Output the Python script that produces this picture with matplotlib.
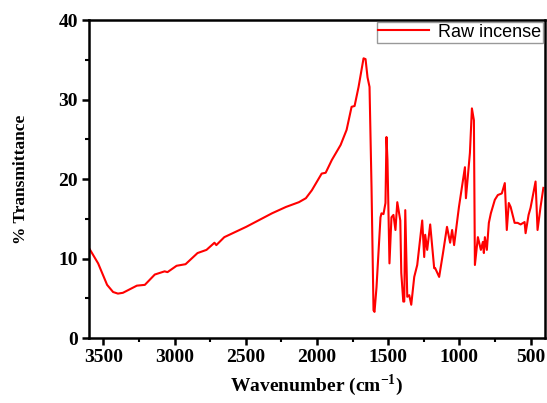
import numpy as np
import matplotlib.pyplot as plt

plt.rcParams['mathtext.fontset'] = 'custom'
plt.rcParams['mathtext.rm'] = 'Liberation Serif'
plt.rcParams['mathtext.bf'] = 'Liberation Serif:bold'

# Espectro FTIR (número de onda em cm^-1, % transmitância)
wavenumber = [3600, 3537, 3474, 3432, 3398, 3363, 3265, 3209, 3139, 3070, 3050, 2986,
              2923, 2839, 2776, 2720, 2707, 2651, 2497, 2316, 2218, 2127, 2078, 2036,
              1967, 1939, 1896, 1834, 1792, 1757, 1736, 1708, 1673, 1659, 1645, 1631,
              1617, 1603, 1596, 1582, 1554, 1547, 1533, 1519, 1512, 1505, 1491, 1477,
              1463, 1449, 1436, 1415, 1408, 1394, 1387, 1380, 1366, 1352, 1338, 1317,
              1296, 1261, 1247, 1240, 1226, 1205, 1177, 1170, 1142, 1115, 1087, 1065,
              1051, 1037, 1003, 961, 954, 926, 912, 898, 891, 870, 849, 835, 828, 821,
              807, 793, 779, 751, 730, 702, 681, 667, 653, 640, 612, 591, 570, 542,
              535, 514, 500, 465, 451, 430, 410]
transmittance = [11.3, 9.4, 6.7, 5.8, 5.6, 5.7, 6.6, 6.7, 8.0, 8.4, 8.3, 9.1,
                 9.3, 10.7, 11.1, 12.0, 11.7, 12.7, 14.0, 15.7, 16.5, 17.1, 17.6, 18.6,
                 20.7, 20.8, 22.4, 24.3, 26.2, 29.1, 29.2, 31.6, 35.2, 35.1, 32.8, 31.6,
                 19.0, 3.5, 3.3, 6.4, 15.2, 15.7, 15.6, 17.0, 25.3, 22.4, 9.4, 15.2,
                 15.5, 13.6, 17.1, 14.8, 8.2, 4.6, 4.6, 16.1, 5.2, 5.4, 4.2, 7.7,
                 9.2, 14.8, 10.2, 13.0, 11.1, 14.3, 8.8, 8.8, 7.7, 10.7, 14.0, 12.0,
                 13.6, 11.7, 16.5, 21.5, 17.6, 23.3, 28.9, 27.4, 9.2, 12.7, 11.1, 12.1, 10.7, 12.7,
                 11.1, 14.5, 15.7, 17.4, 18.0, 18.2, 19.5, 13.6, 17.0, 16.5, 14.5, 14.5, 14.3, 14.6,
                 13.2, 15.5, 16.4, 19.7, 13.6, 16.5, 18.9]

fig = plt.figure(figsize=(5.47, 4.03), dpi=100)
ax = fig.add_axes([0.163, 0.161, 0.833, 0.789])

ax.plot(wavenumber, transmittance, color='red', lw=1.5, label='Raw incense')

ax.set_xlim(3600, 400)
ax.set_ylim(0, 40)
ax.set_xticks([3500, 3000, 2500, 2000, 1500, 1000, 500])
ax.set_xticks(np.arange(3750, 400, -250)[1:], minor=True)
ax.set_yticks([0, 10, 20, 30, 40])
ax.set_yticks([5, 15, 25, 35], minor=True)

serif = 'Liberation Serif'
for lab in ax.get_xticklabels() + ax.get_yticklabels():
    lab.set_fontfamily(serif)
    lab.set_fontweight('bold')
    lab.set_fontsize(14)

ax.tick_params(which='major', direction='out', length=5, width=1.8, pad=3)
ax.tick_params(which='minor', direction='out', length=3, width=1.5)
for s in ax.spines.values():
    s.set_linewidth(1.8)

ax.set_xlabel('Wavenumber (cm$^{\\mathbf{-1}}$)', fontfamily=serif, fontweight='bold',
              fontsize=14, labelpad=4)
ax.set_ylabel('% Transmittance', fontfamily=serif, fontweight='bold', fontsize=12.5,
              labelpad=21)

leg = ax.legend(loc='upper right', prop={'family': 'Liberation Sans', 'size': 13},
                fancybox=False, borderpad=0.1, handlelength=2.8, borderaxespad=0.1,
                handletextpad=0.5)
leg.get_frame().set_edgecolor('gray')
leg.get_frame().set_linewidth(1)

fig.savefig('out.png', dpi=100)
